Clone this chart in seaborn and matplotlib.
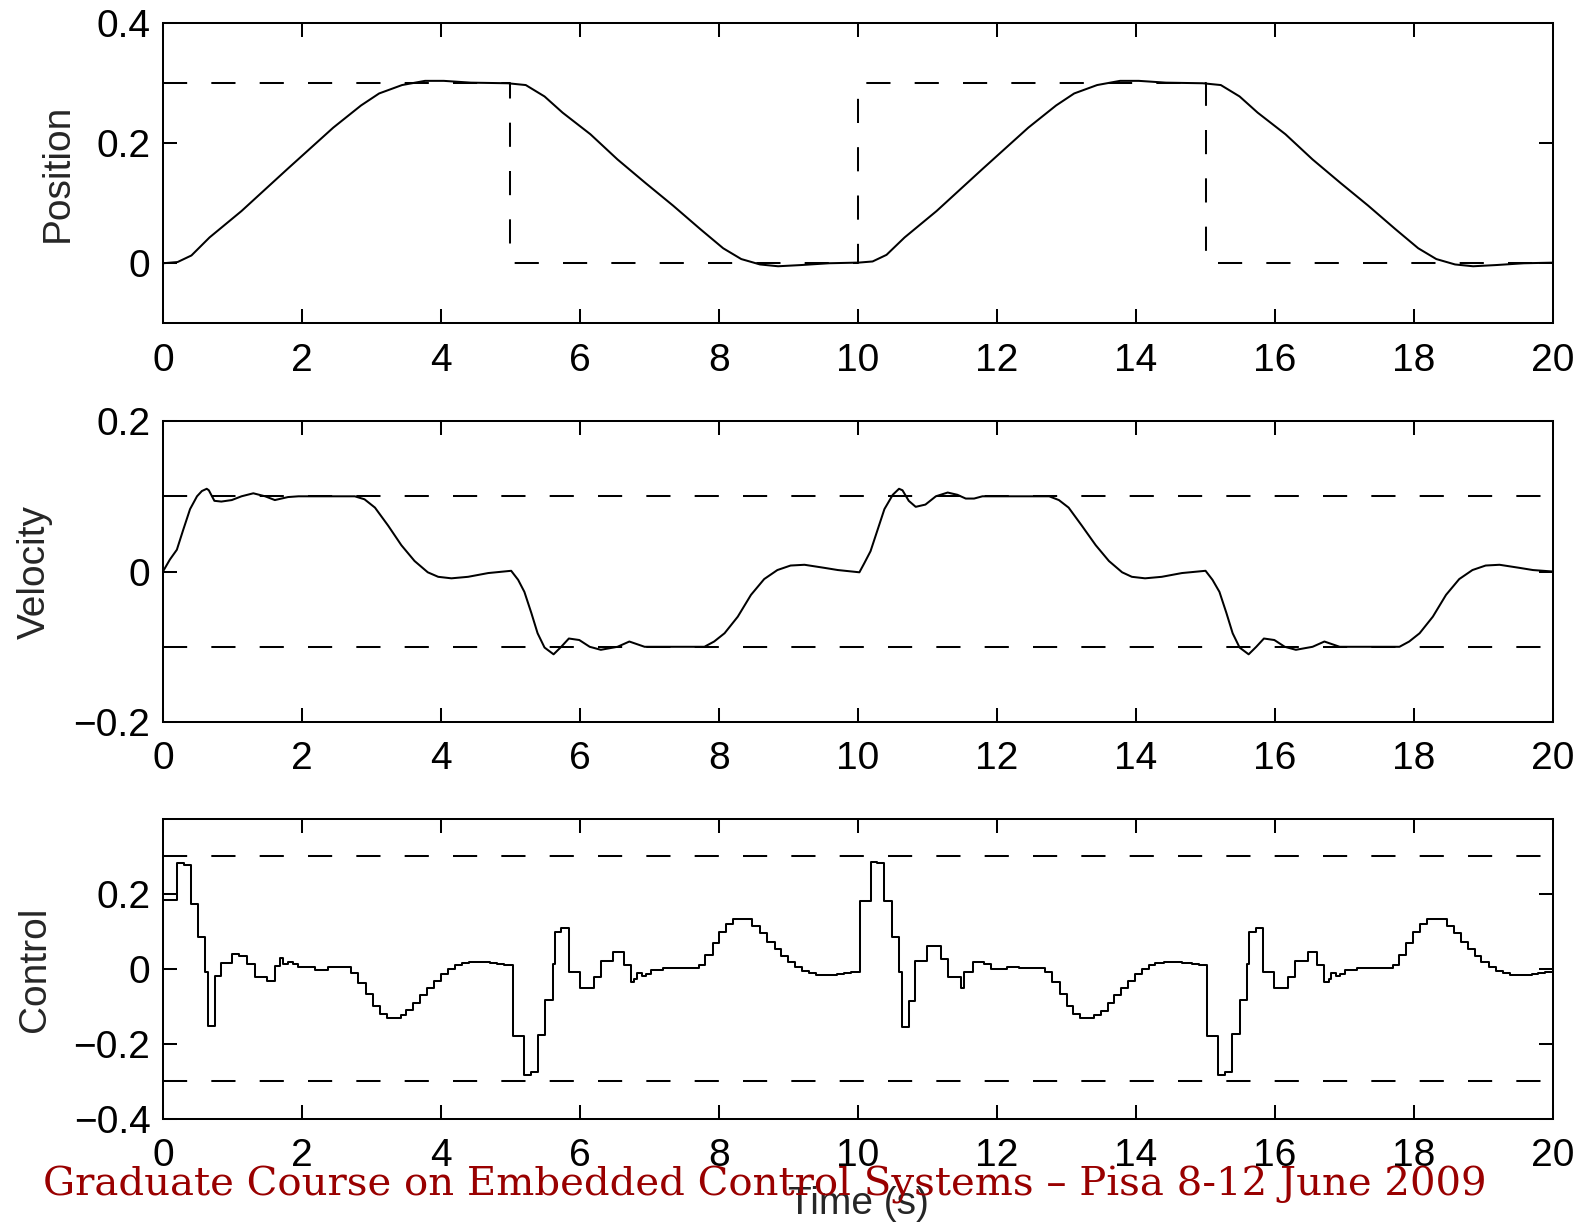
import numpy as np
import pandas as pd
import matplotlib
matplotlib.use("Agg")
import matplotlib.pyplot as plt
from matplotlib.ticker import FuncFormatter
import seaborn as sns

# ---- data (two 10 s periods) ----
# position (smooth)
pos_t1 = [0.00, 0.21, 0.41, 0.67, 1.13, 1.79, 2.45, 2.85, 3.11, 3.44, 3.77, 4.04, 4.43, 4.96, 5.22,
          5.49, 5.75, 6.15, 6.54, 6.94, 7.34, 7.73, 8.06, 8.32, 8.59, 8.85, 9.18, 9.58, 9.97]
pos_y1 = [0.000, 0.002, 0.013, 0.043, 0.087, 0.157, 0.226, 0.263, 0.283, 0.297, 0.304, 0.304, 0.301, 0.300, 0.297,
          0.278, 0.251, 0.215, 0.173, 0.134, 0.096, 0.057, 0.025, 0.007, -0.002, -0.005, -0.003, 0.000, 0.001]
pos_t2 = [10.00, 10.21, 10.41, 10.67, 11.13, 11.79, 12.45, 12.85, 13.11, 13.44, 13.77, 14.04, 14.43, 14.96, 15.22,
          15.49, 15.75, 16.15, 16.54, 16.94, 17.34, 17.73, 18.06, 18.32, 18.59, 18.85, 19.18, 19.58, 20.00]
pos_y2 = [0.001, 0.003, 0.014, 0.043, 0.087, 0.157, 0.226, 0.263, 0.283, 0.297, 0.304, 0.304, 0.301, 0.300, 0.297,
          0.278, 0.251, 0.215, 0.173, 0.134, 0.096, 0.057, 0.025, 0.007, -0.002, -0.005, -0.003, 0.000, 0.001]
# position reference (square wave)
ref_t = [0, 5, 5, 10, 10, 15, 15, 20]
ref_y = [0.3, 0.3, 0.0, 0.0, 0.3, 0.3, 0.0, 0.0]

# velocity
vel_t1 = [0.00, 0.10, 0.20, 0.29, 0.39, 0.49, 0.56, 0.63, 0.66, 0.74, 0.84, 0.99, 1.13, 1.30, 1.47, 1.61,
          1.80, 1.95, 2.28, 2.76, 2.90, 3.05, 3.24, 3.43, 3.62, 3.81, 3.96, 4.15, 4.39, 4.68, 5.01]
vel_v1 = [0.000, 0.016, 0.029, 0.055, 0.083, 0.100, 0.107, 0.110, 0.108, 0.094, 0.093, 0.095, 0.100, 0.104, 0.100, 0.095,
          0.099, 0.100, 0.100, 0.100, 0.096, 0.085, 0.061, 0.035, 0.014, -0.001, -0.007, -0.009, -0.007, -0.002, 0.001]
vel_t2 = [5.11, 5.20, 5.30, 5.39, 5.49, 5.62, 5.73, 5.84, 5.99, 6.14, 6.30, 6.54, 6.71, 6.93, 7.31, 7.79,
          7.93, 8.08, 8.27, 8.46, 8.65, 8.84, 9.03, 9.23, 9.51, 9.71, 10.02]
vel_v2 = [-0.011, -0.027, -0.055, -0.082, -0.101, -0.110, -0.100, -0.089, -0.091, -0.100, -0.104, -0.100, -0.093, -0.100,
          -0.100, -0.100, -0.093, -0.082, -0.060, -0.031, -0.010, 0.002, 0.008, 0.009, 0.005, 0.002, -0.001]
vel_t3 = [10.09, 10.18, 10.28, 10.38, 10.50, 10.59, 10.64, 10.73, 10.83, 10.97, 11.12, 11.29, 11.43, 11.55, 11.67,
          11.79, 12.27, 12.75, 12.89, 13.03, 13.22, 13.42, 13.61, 13.80, 13.94, 14.13, 14.37, 14.66, 15.00]
vel_v3 = [0.011, 0.027, 0.055, 0.083, 0.102, 0.110, 0.108, 0.094, 0.086, 0.089, 0.100, 0.105, 0.102, 0.097, 0.097,
          0.100, 0.100, 0.100, 0.095, 0.085, 0.061, 0.035, 0.014, -0.001, -0.007, -0.009, -0.007, -0.002, 0.001]
vel_t4 = [15.10, 15.20, 15.30, 15.39, 15.49, 15.62, 15.73, 15.84, 15.99, 16.14, 16.30, 16.54, 16.71, 16.93, 17.31,
          17.79, 17.93, 18.08, 18.27, 18.46, 18.65, 18.84, 19.03, 19.23, 19.51, 19.71, 20.00]
vel_v4 = [-0.011, -0.027, -0.055, -0.082, -0.101, -0.110, -0.100, -0.089, -0.091, -0.100, -0.104, -0.100, -0.093, -0.100,
          -0.100, -0.100, -0.093, -0.082, -0.060, -0.031, -0.010, 0.002, 0.008, 0.009, 0.005, 0.002, 0.000]
vel_limit = 0.1

# control (sampled, held between updates)
ctrl_t1 = [0.00, 0.00, 0.20, 0.30, 0.40, 0.50, 0.60, 0.65, 0.75, 0.83, 1.00, 1.10, 1.21, 1.32, 1.49, 1.61, 1.69,
           1.73, 1.80, 1.87, 1.95, 2.19, 2.38, 2.71, 2.81, 2.92, 3.02, 3.12, 3.22, 3.42, 3.50, 3.60, 3.70,
           3.80, 3.90, 4.00, 4.10, 4.20, 4.30, 4.40, 4.70, 4.80, 4.90]
ctrl_u1 = [0.000, 0.183, 0.282, 0.276, 0.174, 0.084, -0.009, -0.153, -0.019, 0.015, 0.041, 0.034, 0.012, -0.022,
           -0.032, 0.009, 0.028, 0.012, 0.018, 0.012, 0.006, -0.002, 0.004, -0.011, -0.037, -0.068, -0.100,
           -0.120, -0.132, -0.124, -0.110, -0.091, -0.070, -0.051, -0.031, -0.013, 0.000, 0.010, 0.016,
           0.019, 0.017, 0.012, 0.010]
ctrl_t2 = [5.03, 5.19, 5.30, 5.39, 5.50, 5.61, 5.64, 5.73, 5.84, 6.00, 6.20, 6.30, 6.48, 6.63, 6.73, 6.78, 6.82,
           6.89, 6.95, 7.02, 7.19, 7.71, 7.80, 7.91, 8.00, 8.10, 8.20, 8.39, 8.48, 8.59, 8.69, 8.80, 8.89,
           8.99, 9.09, 9.19, 9.30, 9.39, 9.70, 9.80, 9.90]
ctrl_u2 = [-0.180, -0.282, -0.276, -0.175, -0.082, 0.014, 0.099, 0.110, -0.008, -0.051, -0.022, 0.022, 0.046,
           0.011, -0.034, -0.027, -0.012, -0.020, -0.014, -0.002, 0.002, 0.011, 0.038, 0.070, 0.099, 0.121,
           0.134, 0.132, 0.114, 0.096, 0.073, 0.053, 0.034, 0.018, 0.005, -0.005, -0.012, -0.015, -0.013,
           -0.011, -0.007]
ctrl_t3 = [10.03, 10.18, 10.28, 10.38, 10.49, 10.59, 10.63, 10.73, 10.82, 10.99, 11.09, 11.20, 11.30, 11.48,
           11.52, 11.66, 11.81, 11.92, 12.15, 12.32, 12.69, 12.79, 12.90, 13.00, 13.10, 13.20, 13.39, 13.49,
           13.59, 13.69, 13.79, 13.89, 13.98, 14.09, 14.18, 14.28, 14.40, 14.66, 14.80, 14.90]
ctrl_u3 = [0.182, 0.284, 0.282, 0.181, 0.086, -0.007, -0.154, -0.085, 0.022, 0.062, 0.060, 0.027, -0.022,
           -0.051, -0.008, 0.019, 0.012, 0.000, 0.006, 0.002, -0.009, -0.036, -0.068, -0.098, -0.119, -0.132,
           -0.124, -0.111, -0.091, -0.070, -0.051, -0.031, -0.014, -0.001, 0.010, 0.016, 0.019, 0.016,
           0.012, 0.010]
ctrl_t4 = [15.02, 15.18, 15.28, 15.38, 15.49, 15.60, 15.63, 15.72, 15.82, 15.98, 16.19, 16.29, 16.47, 16.61,
           16.71, 16.77, 16.81, 16.88, 16.94, 17.01, 17.18, 17.69, 17.79, 17.89, 17.99, 18.09, 18.19, 18.37,
           18.47, 18.58, 18.68, 18.78, 18.88, 18.97, 19.08, 19.18, 19.28, 19.38, 19.69, 19.79, 19.88, 20.00]
ctrl_u4 = [-0.180, -0.282, -0.276, -0.174, -0.082, 0.014, 0.099, 0.110, -0.008, -0.051, -0.022, 0.022, 0.046,
           0.011, -0.034, -0.027, -0.012, -0.020, -0.014, -0.002, 0.002, 0.011, 0.038, 0.070, 0.099, 0.121,
           0.134, 0.132, 0.114, 0.096, 0.073, 0.053, 0.034, 0.018, 0.005, -0.005, -0.012, -0.015, -0.013,
           -0.011, -0.007, -0.007]
ctrl_limit = 0.3

x_ticks = [0, 2, 4, 6, 8, 10, 12, 14, 16, 18, 20]
footer = "Graduate Course on Embedded Control Systems \u2013 Pisa 8-12 June 2009"

pos = pd.DataFrame({"t": pos_t1 + pos_t2, "y": pos_y1 + pos_y2})
ref = pd.DataFrame({"t": ref_t, "y": ref_y})
vel = pd.DataFrame({"t": vel_t1 + vel_t2 + vel_t3 + vel_t4, "y": vel_v1 + vel_v2 + vel_v3 + vel_v4})
ctrl = pd.DataFrame({"t": ctrl_t1 + ctrl_t2 + ctrl_t3 + ctrl_t4, "y": ctrl_u1 + ctrl_u2 + ctrl_u3 + ctrl_u4})

# ---- style ----
sns.set_style("white")
plt.rcParams["font.family"] = ["Liberation Sans", "DejaVu Sans"]
plt.rcParams["axes.unicode_minus"] = True

FS = 28
LW = 1.45
DASH = (0, (12, 12))

fig = plt.figure(figsize=(15.96, 12.24), dpi=100)
ax1 = fig.add_axes([0.1021, 0.7359, 0.871, 0.2451])
ax2 = fig.add_axes([0.1021, 0.4101, 0.871, 0.2459])
ax3 = fig.add_axes([0.1021, 0.0858, 0.871, 0.2451])

fmt = FuncFormatter(lambda v, p: ("%g" % round(v, 3)).replace("-", "\u2212"))

# position
sns.lineplot(data=ref, x="t", y="y", ax=ax1, color="black", lw=LW, linestyle=DASH,
             estimator=None, sort=False)
sns.lineplot(data=pos, x="t", y="y", ax=ax1, color="black", lw=LW, estimator=None, sort=False)
ax1.set_ylim(-0.1, 0.4)
ax1.set_yticks([0, 0.2, 0.4])
ax1.set_ylabel("Position")

# velocity
for lim in (vel_limit, -vel_limit):
    ax2.axhline(lim, color="black", lw=LW, linestyle=DASH)
sns.lineplot(data=vel, x="t", y="y", ax=ax2, color="black", lw=LW, estimator=None, sort=False)
ax2.set_ylim(-0.2, 0.2)
ax2.set_yticks([-0.2, 0, 0.2])
ax2.set_ylabel("Velocity")

# control
for lim in (ctrl_limit, -ctrl_limit):
    ax3.axhline(lim, color="black", lw=LW, linestyle=DASH)
sns.lineplot(data=ctrl, x="t", y="y", ax=ax3, color="black", lw=LW, estimator=None, sort=False,
             drawstyle="steps-post")
ax3.set_ylim(-0.4, 0.4)
ax3.set_yticks([-0.4, -0.2, 0, 0.2])
ax3.set_ylabel("Control")
ax3.set_xlabel("Time (s)", fontsize=FS, labelpad=8)

for ax in (ax1, ax2, ax3):
    ax.set_xlim(0, 20)
    ax.set_xticks(x_ticks)
    ax.xaxis.set_major_formatter(fmt)
    ax.yaxis.set_major_formatter(fmt)
    if ax is not ax3:
        ax.set_xlabel("")
    ax.yaxis.label.set_size(FS)
    ax.yaxis.labelpad = 15
    ax.tick_params(direction="in", length=10, width=LW, top=True, right=True,
                   bottom=True, left=True, labelsize=FS, colors="black")
    ax.tick_params(axis="x", pad=14)
    ax.tick_params(axis="y", pad=9)
    for s in ax.spines.values():
        s.set_visible(True)
        s.set_color("black")
        s.set_linewidth(LW)

fig.text(43 / 1596, 1 - 1196 / 1224, footer, color="#990000", fontsize=29,
         family=["DejaVu Serif"], ha="left", va="baseline", zorder=10)

fig.savefig("out.png", dpi=100, facecolor="white")
